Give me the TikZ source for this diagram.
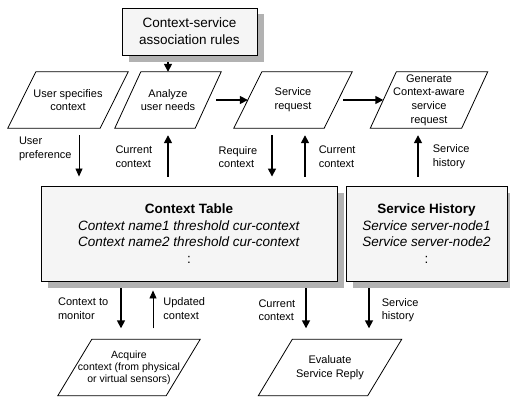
\documentclass[tikz,border=0pt]{standalone}
\usepackage{fontspec}
\setmainfont{Liberation Sans}
\usepackage{tikz}
\usetikzlibrary{
  arrows.meta,
  positioning,
  calc,
  shadows
}
\tikzset{
  rulebox/.style={draw, line width=0.8pt, fill=black!4,
    drop shadow={shadow xshift=6.5pt, shadow yshift=-6.5pt,
      fill=black!30, opacity=1},
    align=center, inner sep=0pt,
    font=\fontsize{13.5}{17}\selectfont},
  tblbox/.style={draw, line width=0.9pt, fill=black!4,
    drop shadow={shadow xshift=6.5pt, shadow yshift=-6.5pt,
      fill=black!30, opacity=1},
    minimum height=95pt, align=center, inner sep=0pt,
    font=\fontsize{13.5}{16.6}\selectfont},
  slantbox/.style={minimum height=56pt, inner sep=0pt,
    align=center, font=\fontsize{11}{13.8}\selectfont},
  lbl/.style={inner sep=0pt, align=left,
    font=\fontsize{11}{13.5}\selectfont},
  arr/.style={-{Triangle[length=8pt, width=8pt]}, line width=1.6pt},
  thinarr/.style={-{Triangle[length=8pt, width=7pt]}, line width=0.8pt},
}

\begin{document}
\begin{tikzpicture}[x=1pt, y=-1pt]
  \useasboundingbox (0,0) rectangle (510,396);

  % Rules on top
  \node[rulebox, minimum width=135pt, minimum height=47pt] (rules)
    at (189.5,31.5) {Context-service\\association rules};

  % Request flow
  \node[slantbox, minimum width=92pt] (usr) at (68,100)
    {User specifies\\context};
  \node[slantbox, minimum width=80pt] (anz) at (168,100)
    {Analyze\\user needs};
  \node[slantbox, minimum width=90pt] (req) at (293,100)
    {Service\\request};
  \node[slantbox, minimum width=91pt] (gen) at (429,100)
    {Generate\\Context-aware\\service\\request};

  % Tables
  \node[tblbox, minimum width=296pt] (ctx) at (189,233.5) {
    \textbf{Context Table}\\
    \textit{Context name1 threshold cur-context}\\
    \textit{Context name2 threshold cur-context}\\
    :
  };
  \node[tblbox, minimum width=161pt] (hist) at (426.5,233.5) {
    \textbf{Service History}\\
    \textit{Service server-node1}\\
    \textit{Service server-node2}\\
    :
  };

  % Sensing and reply
  \node[slantbox, minimum width=108pt,
        font=\fontsize{10.5}{12.2}\selectfont] (acq) at (129,367.5)
    {Acquire\\context (from physical\\or virtual sensors)};
  \node[slantbox, minimum width=109pt] (evl) at (330,367.5)
    {Evaluate\\Service Reply};

  % Slanted outlines
  \foreach \n/\s in {usr/14pt, anz/13pt, req/14pt, gen/13pt,
                     acq/17pt, evl/17pt}
    \draw[line width=0.8pt]
      ([xshift=\s]\n.north west) -- ([xshift=\s]\n.north east)
      -- ([xshift=-\s]\n.south east) -- ([xshift=-\s]\n.south west)
      -- cycle;

  % Row connectors
  \draw[arr, shorten <=7pt] (rules.south -| anz.north) -- (anz.north);
  \draw[arr, shorten <=8pt] (anz.east) -- (req.west);
  \draw[arr, shorten <=5pt] (req.east) -- (gen.west);

  % Between row and tables
  \draw[thinarr, shorten <=7pt, shorten >=9pt]
    ([xshift=11pt]usr.south) -- ([xshift=11pt]usr.south |- ctx.north)
    node[lbl, pos=.36, left=7pt] {User\\preference};
  \draw[arr, shorten <=9pt, shorten >=7pt]
    (anz.south |- ctx.north) -- (anz.south)
    node[lbl, pos=.5, left=15pt] {Current\\context};
  \draw[arr, shorten <=7pt, shorten >=9pt]
    ([xshift=-21pt]req.south) -- ([xshift=-21pt]req.south |- ctx.north)
    node[lbl, pos=.5, left=14pt] {Require\\context};
  \draw[arr, shorten <=9pt, shorten >=7pt]
    ([xshift=12pt]req.south |- ctx.north) -- ([xshift=12pt]req.south)
    node[lbl, pos=.5, right=13pt] {Current\\context};
  \draw[arr, shorten <=9pt, shorten >=7pt]
    ([xshift=-11pt]gen.south |- hist.north) -- ([xshift=-11pt]gen.south)
    node[lbl, pos=.5, right=14pt] {Service\\history};

  % Below the tables
  \draw[arr, shorten <=7pt, shorten >=11pt]
    ([xshift=-8pt]acq.north |- ctx.south) -- ([xshift=-8pt]acq.north)
    node[lbl, pos=.47, left=12pt] {Context to\\monitor};
  \draw[thinarr, shorten <=11pt, shorten >=9pt]
    ([xshift=24pt]acq.north) -- ([xshift=24pt]acq.north |- ctx.south)
    node[lbl, pos=.53, right=10pt] {Updated\\context};
  \draw[arr, shorten <=7pt, shorten >=11pt]
    ([xshift=-24pt]evl.north |- ctx.south) -- ([xshift=-24pt]evl.north)
    node[lbl, pos=.5, left=10pt] {Current\\context};
  \draw[arr, shorten <=7pt, shorten >=11pt]
    ([xshift=39pt]evl.north |- hist.south) -- ([xshift=39pt]evl.north)
    node[lbl, pos=.5, right=12pt] {Service\\history};
\end{tikzpicture}
\end{document}
